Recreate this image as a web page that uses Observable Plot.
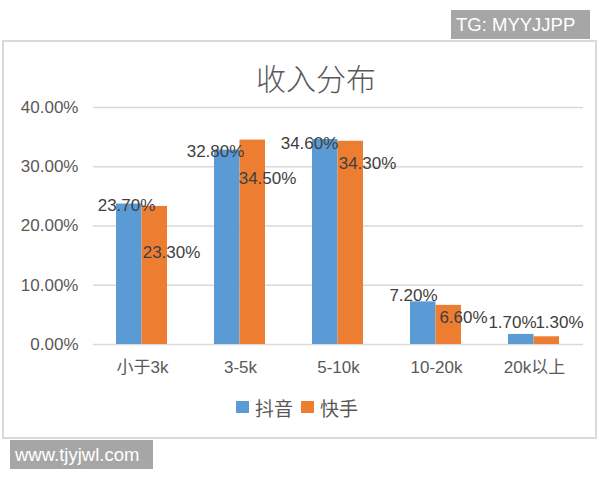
<!DOCTYPE html>
<html>
<head>
<meta charset="utf-8">
<script src="https://cdn.jsdelivr.net/npm/d3@7"></script>
<script src="https://cdn.jsdelivr.net/npm/@observablehq/plot@0.6"></script>
<style>
  html, body { margin: 0; padding: 0; background: #fff; }
  #wrap { position: relative; width: 600px; height: 480px; overflow: hidden; font-family: "Liberation Sans", "Noto Sans CJK SC", sans-serif; }
  #frame { position: absolute; left: 2px; top: 40px; width: 591px; height: 395px; border: 2px solid #dadada; }
  #chart { position: absolute; left: 0; top: 0; }
  .mark { position: absolute; background: #a6a6a6; color: #fff; font-family: "Liberation Sans", sans-serif; font-size: 18.5px; line-height: 29px; height: 29px; white-space: nowrap; box-sizing: border-box; }
  #tg { left: 451px; top: 10px; width: 139px; padding-left: 5px; }
  #www { left: 10px; top: 440px; width: 143px; padding-left: 5px; }
  #title { position: absolute; left: 216px; width: 200px; top: 58px; text-align: center; font-family: "Noto Sans CJK SC", sans-serif; font-weight: 300; font-size: 30px; line-height: 38px; color: #595959; }
  #legend { position: absolute; top: 396px; left: 236px; height: 22px; display: flex; align-items: center; font-family: "Noto Sans CJK SC", sans-serif; font-size: 19px; color: #595959; }
  #legend .sw { width: 13px; height: 12px; display: inline-block; margin-right: 6px; }
  #legend .item { display: flex; align-items: center; margin-right: 8px; }
</style>
</head>
<body>
<div id="wrap">
  <div id="frame"></div>
  <div id="chart"></div>
  <div id="title"></div>
  <div id="legend"></div>
  <div id="tg" class="mark">TG: MYYJJPP</div>
  <div id="www" class="mark">www.tjyjwl.com</div>
</div>
<script>
// ---- data ----
const categories = ["小于3k", "3-5k", "5-10k", "10-20k", "20k以上"];
const seriesNames = ["抖音", "快手"];
const douyin = [23.7, 32.8, 34.6, 7.2, 1.7];
const kuaishou = [23.3, 34.5, 34.3, 6.6, 1.3];
const yTicks = [0, 10, 20, 30, 40];
const chartTitle = "收入分布";

// ---- styling / layout ----
const colors = ["#5B9BD5", "#ED7D31"];
const pct = v => v.toFixed(2) + "%";
// label nudges (Excel-like placement), pixels
const nudgeA = [[-16, 1], [-25, 1], [-29, 4], [-23, -6], [-22, -12]];
const nudgeB = [[29, 46], [27, 38], [29, 22], [27, 12], [25, -14]];

const rowsA = categories.map((c, i) => ({cat: c, v: douyin[i]}));
const rowsB = categories.map((c, i) => ({cat: c, v: kuaishou[i]}));

const labelMarks = [];
rowsA.forEach((d, i) => labelMarks.push(Plot.text([d], {x: "cat", y: "v", text: d => pct(d.v), dx: nudgeA[i][0], dy: nudgeA[i][1], fill: "#404040", fontSize: 17})));
rowsB.forEach((d, i) => labelMarks.push(Plot.text([d], {x: "cat", y: "v", text: d => pct(d.v), dx: nudgeB[i][0], dy: nudgeB[i][1], fill: "#404040", fontSize: 17})));

const chart = Plot.plot({
  width: 600,
  height: 480,
  marginLeft: 93,
  marginRight: 17,
  marginTop: 107,
  marginBottom: 136,
  style: {fontFamily: "'Liberation Sans', 'Noto Sans CJK SC', sans-serif", fontSize: "17px", background: "transparent", overflow: "visible"},
  x: {domain: categories, padding: 0, label: null},
  y: {domain: [0, 40], label: null},
  marks: [
    Plot.gridY(yTicks, {stroke: "#d9d9d9", strokeOpacity: 1, strokeWidth: 1.5}),
    Plot.barY(rowsA, {x: "cat", y: "v", fill: colors[0], insetLeft: 23, insetRight: 49.5}),
    Plot.barY(rowsB, {x: "cat", y: "v", fill: colors[1], insetLeft: 48.5, insetRight: 24}),
    Plot.axisY({ticks: yTicks, tickFormat: pct, tickSize: 0, tickPadding: 15, fill: "#595959", fontSize: 17, label: null}),
    Plot.axisX({tickSize: 0, tickPadding: 16, fill: "#595959", fontSize: 17, label: null}),
    ...labelMarks
  ]
});
document.getElementById("chart").appendChild(chart);
document.getElementById("title").textContent = chartTitle;

const legend = document.getElementById("legend");
seriesNames.forEach((n, i) => {
  const it = document.createElement("div");
  it.className = "item";
  const sw = document.createElement("span");
  sw.className = "sw";
  sw.style.background = colors[i];
  const t = document.createElement("span");
  t.textContent = n;
  it.appendChild(sw); it.appendChild(t);
  legend.appendChild(it);
});
</script>
</body>
</html>
